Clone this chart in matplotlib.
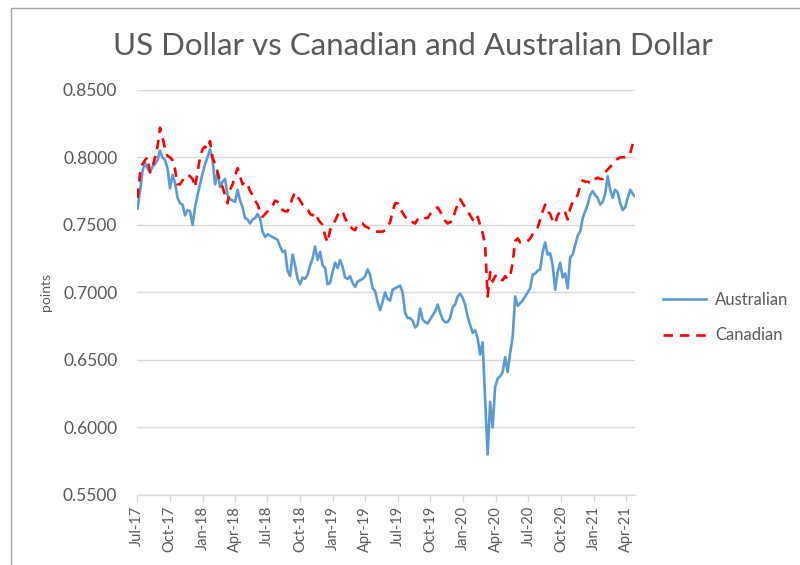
"""
US Dollar vs Canadian and Australian Dollar - weekly exchange rates, Jul 2017 - Apr 2021.
Saves out.png (800x565).
"""

import pandas as pd
import matplotlib
matplotlib.use("Agg")  # Non-interactive backend
import matplotlib.pyplot as plt
import matplotlib.dates as mdates
import matplotlib.ticker as ticker
from matplotlib.patches import Rectangle

plt.rcParams["font.family"] = ["Lato", "DejaVu Sans"]

TEXT_GREY = "#595959"
GRID_GREY = "#d9d9d9"
AUD_BLUE = "#5b9bd5"
CAD_RED = "#ff0000"

start_date = "2017-07-03"
n_weeks = 200

australian = [
    0.762, 0.775, 0.790, 0.796, 0.792, 0.789, 0.793, 0.795, 0.798, 0.805,
    0.800, 0.798, 0.792, 0.777, 0.787, 0.781, 0.770, 0.766, 0.765, 0.757,
    0.761, 0.760, 0.750, 0.763, 0.772, 0.780, 0.788, 0.795, 0.800, 0.806,
    0.798, 0.780, 0.789, 0.778, 0.782, 0.784, 0.772, 0.769, 0.768, 0.767,
    0.776, 0.768, 0.763, 0.755, 0.754, 0.751, 0.754, 0.755, 0.758, 0.755,
    0.745, 0.741, 0.743, 0.742, 0.741, 0.740, 0.739, 0.734, 0.730, 0.731,
    0.716, 0.712, 0.728, 0.720, 0.710, 0.706, 0.711, 0.710, 0.713, 0.720,
    0.725, 0.734, 0.724, 0.730, 0.720, 0.718, 0.706, 0.707, 0.715, 0.722,
    0.718, 0.724, 0.719, 0.711, 0.710, 0.712, 0.707, 0.704, 0.708, 0.709,
    0.710, 0.712, 0.717, 0.713, 0.703, 0.701, 0.693, 0.687, 0.693, 0.700,
    0.695, 0.694, 0.702, 0.703, 0.704, 0.705, 0.700, 0.685, 0.681, 0.681,
    0.679, 0.674, 0.676, 0.688, 0.680, 0.678, 0.677, 0.680, 0.683, 0.686,
    0.691, 0.685, 0.680, 0.678, 0.678, 0.681, 0.689, 0.691, 0.697, 0.699,
    0.696, 0.691, 0.682, 0.676, 0.670, 0.672, 0.666, 0.654, 0.663, 0.620,
    0.580, 0.619, 0.600, 0.630, 0.636, 0.638, 0.641, 0.652, 0.641, 0.655,
    0.667, 0.697, 0.690, 0.692, 0.694, 0.697, 0.700, 0.703, 0.713, 0.714,
    0.716, 0.717, 0.730, 0.737, 0.728, 0.729, 0.720, 0.702, 0.715, 0.722,
    0.711, 0.714, 0.703, 0.726, 0.728, 0.735, 0.742, 0.745, 0.755, 0.760,
    0.765, 0.772, 0.775, 0.772, 0.770, 0.765, 0.767, 0.773, 0.786, 0.776,
    0.770, 0.776, 0.774, 0.766, 0.761, 0.763, 0.770, 0.776, 0.773, 0.771,
]

canadian = [
    0.770, 0.788, 0.795, 0.798, 0.800, 0.789, 0.793, 0.800, 0.808, 0.822,
    0.815, 0.806, 0.801, 0.800, 0.798, 0.791, 0.780, 0.780, 0.783, 0.786,
    0.787, 0.786, 0.784, 0.778, 0.789, 0.800, 0.806, 0.808, 0.806, 0.812,
    0.800, 0.795, 0.789, 0.782, 0.778, 0.772, 0.766, 0.776, 0.780, 0.786,
    0.792, 0.786, 0.780, 0.782, 0.780, 0.775, 0.772, 0.768, 0.765, 0.760,
    0.756, 0.758, 0.760, 0.762, 0.764, 0.768, 0.767, 0.764, 0.761, 0.760,
    0.760, 0.765, 0.770, 0.774, 0.771, 0.768, 0.765, 0.764, 0.762, 0.758,
    0.757, 0.759, 0.755, 0.752, 0.750, 0.742, 0.737, 0.746, 0.750, 0.753,
    0.757, 0.760, 0.760, 0.755, 0.751, 0.749, 0.747, 0.746, 0.750, 0.751,
    0.751, 0.749, 0.748, 0.747, 0.746, 0.745, 0.745, 0.745, 0.745, 0.746,
    0.749, 0.752, 0.760, 0.766, 0.766, 0.762, 0.759, 0.756, 0.754, 0.754,
    0.752, 0.751, 0.754, 0.755, 0.754, 0.755, 0.755, 0.758, 0.760, 0.762,
    0.763, 0.760, 0.756, 0.753, 0.751, 0.752, 0.753, 0.760, 0.765, 0.769,
    0.766, 0.763, 0.760, 0.757, 0.754, 0.752, 0.756, 0.750, 0.744, 0.735,
    0.697, 0.715, 0.708, 0.712, 0.713, 0.710, 0.709, 0.712, 0.710, 0.712,
    0.722, 0.738, 0.740, 0.737, 0.737, 0.737, 0.738, 0.740, 0.743, 0.745,
    0.748, 0.754, 0.760, 0.765, 0.760, 0.758, 0.753, 0.751, 0.757, 0.760,
    0.761, 0.759, 0.754, 0.762, 0.767, 0.770, 0.772, 0.779, 0.783, 0.782,
    0.782, 0.781, 0.781, 0.784, 0.785, 0.784, 0.784, 0.789, 0.791, 0.793,
    0.795, 0.797, 0.799, 0.800, 0.800, 0.800, 0.801, 0.803, 0.810, 0.814,
]

y_ticks = [0.55, 0.60, 0.65, 0.70, 0.75, 0.80, 0.85]


def main():
    dates = pd.date_range(start_date, periods=n_weeks, freq="7D")
    tick_dates = pd.date_range("2017-07-01", "2021-04-01", freq="3MS")

    fig = plt.figure(figsize=(8.0, 5.65), dpi=100)
    ax = fig.add_axes([0.171, 0.124, 0.623, 0.717])

    # Chart-area border (Excel style)
    fig.patches.append(Rectangle((11 / 800, -0.1), 1.2, 1.1 - 8 / 565,
                                 transform=fig.transFigure, fill=False,
                                 edgecolor="#a6a6a6", linewidth=1.0))

    ax.plot(dates, australian, color=AUD_BLUE, linewidth=1.9, label="Australian",
            solid_joinstyle="round")
    ax.plot(dates, canadian, color=CAD_RED, linewidth=1.9, label="Canadian",
            linestyle=(0, (3.6, 2.6)))

    ax.set_xlim(pd.Timestamp("2017-07-01"), dates[-1])
    ax.set_ylim(0.55, 0.85)

    ax.set_yticks(y_ticks)
    ax.yaxis.set_major_formatter(ticker.FormatStrFormatter("%.4f"))
    ax.set_xticks(tick_dates)
    ax.xaxis.set_major_formatter(mdates.DateFormatter("%b-%y"))

    ax.grid(axis="y", color=GRID_GREY, linewidth=1.0)
    ax.set_axisbelow(True)
    for side in ["left", "right", "top"]:
        ax.spines[side].set_visible(False)
    ax.spines["bottom"].set_color(GRID_GREY)
    ax.spines["bottom"].set_linewidth(1.0)

    ax.tick_params(axis="y", length=0, pad=14, labelsize=12.5, labelcolor=TEXT_GREY)
    ax.tick_params(axis="x", direction="out", length=5, width=1.0, color=GRID_GREY,
                   pad=3, labelsize=10.5, labelcolor=TEXT_GREY, labelrotation=90)

    ax.set_ylabel("points", fontsize=10, color=TEXT_GREY, labelpad=8)

    fig.text(0.516, 0.918, "US Dollar vs Canadian and Australian Dollar",
             ha="center", va="center", fontsize=22.5, color=TEXT_GREY)

    ax.legend(loc="center left", bbox_to_anchor=(1.026, 0.437), frameon=False,
              fontsize=12, labelcolor=TEXT_GREY, handlelength=2.6,
              handletextpad=0.5, labelspacing=1.15, borderaxespad=0.5)

    fig.savefig("out.png", dpi=100)
    plt.close(fig)


if __name__ == "__main__":
    main()
